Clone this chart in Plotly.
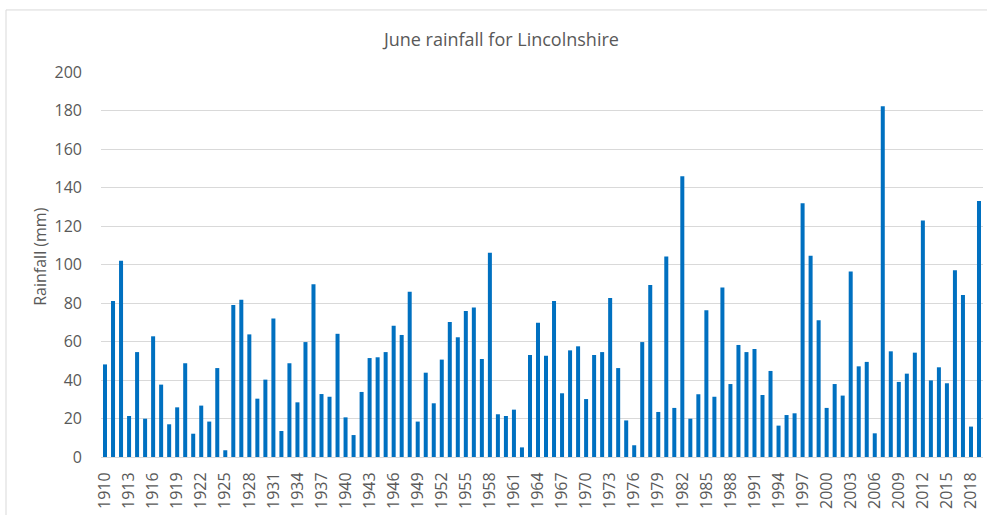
import plotly.graph_objects as go

years = list(range(1910, 2020))
rainfall_mm = [
    48.1, 81.0, 102.0, 21.3, 54.5, 19.9, 62.7, 37.6, 17.0, 25.8,
    48.7, 12.1, 26.7, 18.4, 46.2, 3.5, 79.0, 81.7, 63.7, 30.3,
    40.2, 71.9, 13.5, 48.7, 28.4, 59.7, 89.7, 32.7, 31.3, 64.0,
    20.6, 11.4, 33.8, 51.4, 51.8, 54.5, 68.2, 63.4, 85.9, 18.4,
    43.8, 27.9, 50.6, 70.1, 62.2, 75.8, 77.7, 50.9, 106.1, 22.2,
    21.3, 24.6, 5.0, 53.0, 69.8, 52.6, 81.0, 33.1, 55.4, 57.5,
    30.1, 53.0, 54.5, 82.6, 46.2, 19.0, 6.1, 59.7, 89.4, 23.4,
    104.1, 25.5, 145.8, 19.9, 32.6, 76.2, 31.3, 88.1, 37.9, 58.2,
    54.5, 56.1, 32.2, 44.7, 16.3, 21.8, 22.7, 131.8, 104.6, 71.0,
    25.5, 37.9, 31.9, 96.3, 47.1, 49.4, 12.3, 182.2, 54.9, 39.0,
    43.3, 54.2, 122.9, 39.8, 46.6, 38.3, 97.0, 84.2, 15.8, 133.0,
]
tick_years = list(range(1910, 2020, 3))
tick_labels = [str(y) for y in tick_years]
y_ticks = list(range(0, 201, 20))

title_text = "June rainfall for Lincolnshire"
y_title = "Rainfall (mm)"

FONT = "Open Sans"
GRAY = "#595959"

fig = go.Figure(
    go.Bar(x=years, y=rainfall_mm, marker=dict(color="#0070C0", line=dict(width=0)))
)

fig.update_layout(
    width=987,
    height=515,
    margin=dict(l=101, r=4, t=72, b=58),
    paper_bgcolor="white",
    plot_bgcolor="white",
    bargap=0.5,
    showlegend=False,
    font=dict(family=FONT, color=GRAY, size=16),
    title=dict(
        text=title_text,
        x=0.508,
        xanchor="center",
        y=1 - 40 / 515,
        yanchor="middle",
        font=dict(family=FONT, size=18, color=GRAY),
    ),
    annotations=[
        dict(
            text=y_title,
            xref="paper",
            yref="paper",
            x=(40 - 101) / 882,
            y=0.52,
            xanchor="center",
            yanchor="middle",
            textangle=-90,
            showarrow=False,
            font=dict(family=FONT, size=16, color=GRAY),
        )
    ],
    shapes=[
        dict(
            type="rect",
            xref="paper",
            yref="paper",
            x0=(6 - 101) / 882,
            x1=(995 - 101) / 882,
            y0=(456.7 - 525) / 384.7,
            y1=(456.7 - 10) / 384.7,
            line=dict(color="#d9d9d9", width=1),
            fillcolor="rgba(0,0,0,0)",
            layer="below",
        )
    ],
)

fig.update_xaxes(
    range=[1909.5, 2019.5],
    tickmode="array",
    tickvals=tick_years,
    ticktext=tick_labels,
    tickangle=-90,
    showgrid=False,
    showline=True,
    linecolor="#d9d9d9",
    linewidth=1,
    ticks="",
    ticklabelstandoff=8,
    tickfont=dict(family=FONT, size=16, color=GRAY),
    zeroline=False,
)

fig.update_yaxes(
    range=[0, 200],
    tickmode="array",
    tickvals=y_ticks,
    showgrid=True,
    gridcolor="#d9d9d9",
    gridwidth=1,
    zeroline=False,
    showline=False,
    ticks="",
    ticklabelstandoff=18,
    tickfont=dict(family=FONT, size=16, color=GRAY),
)

fig.write_html(
    "out.html",
    config={"displayModeBar": False},
    post_script="document.body.style.margin='0';document.body.style.overflow='hidden';",
)
